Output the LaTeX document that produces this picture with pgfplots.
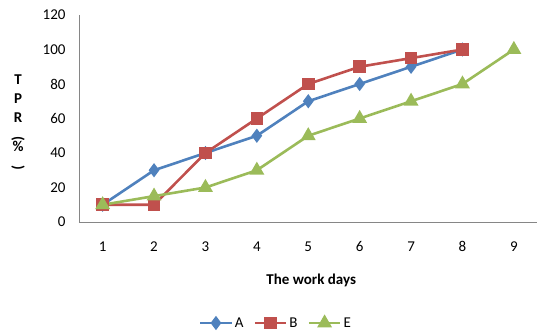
\documentclass[border=0pt]{standalone}
\usepackage{pgfplots}
\pgfplotsset{compat=1.18}
\usepackage{fontspec}
\setmainfont{Carlito}
\definecolor{cA}{HTML}{4F81BD}
\definecolor{cB}{HTML}{C0504D}
\definecolor{cE}{HTML}{9BBB59}
\definecolor{axgray}{HTML}{868686}
\begin{document}
\begin{tikzpicture}[x=1pt,y=1pt]
\useasboundingbox (-79,-113) rectangle (459,222);
\begin{axis}[
  at={(0,0)}, anchor=south west,
  scale only axis, width=458pt, height=207pt,
  xmin=0.54, xmax=9.45, ymin=0, ymax=120,
  xtick={1,...,9}, ytick={0,20,...,120},
  axis x line=bottom, axis y line=left,
  axis line style={axgray, line width=0.8pt, -},
  major tick length=0pt,
  tick label style={font=\fontsize{15}{17}\selectfont},
  /pgf/number format/assume math mode=true,
  xticklabel style={yshift=-16pt},
  yticklabel style={xshift=-10pt},
  xlabel={\textbf{The work days}},
  xlabel style={font=\fontsize{15}{17}\selectfont, at={(axis description cs:0.507,-0.28)}, anchor=center},
  ylabel={\textbf{T}\\[2pt]\textbf{P}\\[2pt]\textbf{R}\\[-3pt]\rotatebox{-90}{\textbf{(}}\\[-2pt]\textbf{\%}\\[-3pt]\rotatebox{-90}{\textbf{)}}},
  ylabel style={rotate=-90, font=\fontsize{15}{17}\selectfont, align=center, at={(axis description cs:-0.133,0.48)}, anchor=center},
  legend style={draw=none, at={(axis description cs:0.43,-0.488)}, anchor=center, legend columns=3, font=\fontsize{15}{17}\selectfont, /tikz/every even column/.append style={column sep=8pt}},
  legend image code/.code={\draw[#1, mark repeat=2, mark phase=2] plot coordinates {(0cm,0cm) (0.55cm,0cm) (1.1cm,0cm)};},
  every axis plot/.append style={line width=2.6pt},
]
\addplot[color=cA, mark=diamond*, mark size=5pt] coordinates {(1,10) (2,30) (3,40) (4,50) (5,70) (6,80) (7,90) (8,100)};
\addplot[color=cB, mark=square*, mark size=5pt] coordinates {(1,10) (2,10) (3,40) (4,60) (5,80) (6,90) (7,95) (8,100)};
\addplot[color=cE, mark=triangle*, mark size=6pt] coordinates {(1,10) (2,15) (3,20) (4,30) (5,50) (6,60) (7,70) (8,80) (9,100)};
\legend{A,B,E}
\end{axis}
\end{tikzpicture}
\end{document}
